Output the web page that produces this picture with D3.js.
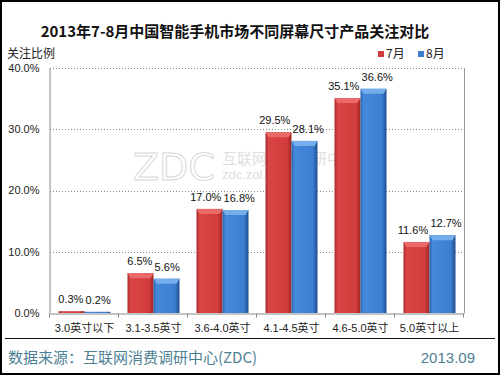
<!DOCTYPE html>
<html>
<head>
<meta charset="utf-8">
<script src="https://cdn.jsdelivr.net/npm/d3@7"></script>
<style>
	body { margin: 0; background: #fff; }
	svg { display: block; font-family: 'Liberation Sans', 'Noto Sans CJK SC', sans-serif; }
</style>
</head>
<body>
<div id="canvas"></div>
<script>
const categories = ['3.0英寸以下', '3.1-3.5英寸', '3.6-4.0英寸', '4.1-4.5英寸', '4.6-5.0英寸', '5.0英寸以上'];
const months = ['7月', '8月'];
const july = [0.3, 6.5, 17.0, 29.5, 35.1, 11.6];
const august = [0.2, 5.6, 16.8, 28.1, 36.6, 12.7];
const yTicks = [0, 10, 20, 30, 40];

function onLoad () {
	const w = 500, h = 375;
	const m = { left: 50, right: 464, top: 68, bottom: 313 };

	const series = months.map((k, i) => ({ key: k, values: i === 0 ? july : august }));
	const rows = categories.map((c, i) => ({ cat: c, values: series.map(s => ({ key: s.key, v: s.values[i] })) }));

	const svg = d3.select('#canvas').append('svg')
		.attr('width', w)
		.attr('height', h)
		.attr('viewBox', [0, 0, w, h]);

	const defs = svg.append('defs');
	const grads = {
		'7月': ['#a82a2a', '#d94545', '#d23c3c', '#a02525'],
		'8月': ['#2a63b0', '#4589dc', '#3c7ed2', '#1f4e90']
	};
	const caps = { '7月': '#ea6a6a', '8月': '#75aeea' };
	months.forEach((k, i) => {
		const g = defs.append('linearGradient').attr('id', `g${i}`).attr('x1', 0).attr('x2', 1).attr('y1', 0).attr('y2', 0);
		[0, 0.12, 0.82, 1].forEach((o, j) => g.append('stop').attr('offset', o).attr('stop-color', grads[k][j]));
	});

	const x0 = d3.scaleBand().domain(categories).range([m.left, m.right]);
	const x1 = d3.scaleBand().domain(months).range([8.5, x0.bandwidth() - 8.5]);
	const y = d3.scaleLinear().domain([0, 40]).range([m.bottom, m.top]);
	const color = d3.scaleOrdinal().domain(months).range(['#d23c3c', '#3c7ed2']);

	// frame
	svg.append('rect').attr('x', 1).attr('y', 1).attr('width', w - 2).attr('height', h - 2)
		.style('fill', 'none').style('stroke', '#000').style('stroke-width', 2);

	// title
	svg.append('text').attr('x', 235).attr('y', 37).attr('text-anchor', 'middle')
		.style('font-family', "'Noto Sans CJK SC', sans-serif")
		.style('font-size', '15px').style('font-weight', 'bold').style('fill', '#111')
		.text('2013年7-8月中国智能手机市场不同屏幕尺寸产品关注对比');

	svg.append('text').attr('x', 7).attr('y', 58)
		.style('font-family', "'Noto Sans CJK SC', sans-serif")
		.style('font-size', '12px').style('fill', '#222').text('关注比例');

	// watermark
	const wm = svg.append('g').style('fill', '#dedede');
	wm.append('text').attr('x', 133).attr('y', 180).style('font-size', '38px').style('font-family', "'DejaVu Sans', sans-serif")
		.style('fill', 'none').style('stroke', '#d8d8d8').text('ZDC');
	wm.append('text').attr('x', 222).attr('y', 164).style('font-size', '15px')
		.style('font-family', "'Noto Sans CJK SC', sans-serif").text('互联网消费调研中心');
	wm.append('text').attr('x', 222).attr('y', 179).style('font-size', '13px').text('zdc.zol.com.cn');

	// grid
	svg.append('g').selectAll('line').data(yTicks.filter(d => d > 0)).join('line')
		.attr('x1', m.left).attr('x2', m.right)
		.attr('y1', d => Math.round(y(d)) + 0.5).attr('y2', d => Math.round(y(d)) + 0.5)
		.style('stroke', '#888').style('stroke-dasharray', '1,2');

	// right border
	svg.append('line').attr('x1', m.right + 0.5).attr('x2', m.right + 0.5).attr('y1', m.top).attr('y2', m.bottom)
		.style('stroke', '#999');

	// y axis
	const yAxis = svg.append('g').attr('transform', `translate(${m.left - 0.5},0)`)
		.call(d3.axisLeft(y).tickValues(yTicks).tickSize(0).tickPadding(10).tickFormat(d => d.toFixed(1) + '%'));
	yAxis.select('.domain').style('stroke', '#888');
	yAxis.selectAll('text').style('font-size', '11px').style('fill', '#222').style('font-family', "'Liberation Sans', sans-serif");
	yAxis.selectAll('.tick text').attr('dy', '0.3em');

	// bars
	const groups = svg.append('g').selectAll('g').data(rows).join('g')
		.attr('transform', d => `translate(${x0(d.cat)},0)`);

	groups.selectAll('rect.bar').data(d => d.values).join('rect')
		.attr('class', 'bar')
		.attr('x', d => x1(d.key))
		.attr('width', x1.bandwidth())
		.attr('y', d => y(d.v))
		.attr('height', d => y(0) - y(d.v))
		.style('fill', d => `url(#g${months.indexOf(d.key)})`);

	groups.selectAll('path.cap').data(d => d.values.filter(v => y(0) - y(v.v) > 6)).join('path')
		.attr('class', 'cap')
		.attr('d', d => {
			const bx = x1(d.key), bw = x1.bandwidth(), by = y(d.v);
			return `M${bx},${by}H${bx + bw}L${bx + bw - 3},${by + 5}H${bx + 3}Z`;
		})
		.style('fill', d => caps[d.key]);

	groups.selectAll('text.val').data(d => d.values).join('text')
		.attr('class', 'val')
		.attr('x', d => x1(d.key) + x1.bandwidth() / 2)
		.attr('y', d => y(d.v) - 8)
		.attr('text-anchor', 'middle')
		.style('font-size', '11px').style('fill', '#111')
		.text(d => d.v.toFixed(1) + '%');

	// push the two labels of a pair apart when they collide
	groups.each(function () {
		const t = d3.select(this).selectAll('text.val').nodes();
		const a = t[0].getBBox(), b = t[1].getBBox();
		const ov = (a.x + a.width) - b.x;
		const vert = a.y < b.y + b.height && b.y < a.y + a.height;
		if (vert && ov > -1) {
			const s = (ov + 2) / 2;
			d3.select(t[0]).attr('x', +t[0].getAttribute('x') - s);
			d3.select(t[1]).attr('x', +t[1].getAttribute('x') + s);
		}
	});

	// x axis
	const xAxis = svg.append('g').attr('transform', `translate(0,${m.bottom + 0.5})`)
		.call(d3.axisBottom(x0).tickSize(0).tickPadding(11).tickSizeOuter(0));
	xAxis.select('.domain').style('stroke', '#888');
	xAxis.selectAll('text').style('font-size', '11px').style('fill', '#222')
		.style('font-family', "'Liberation Sans', 'Noto Sans CJK SC', sans-serif");
	xAxis.selectAll('line.sep').data(d3.range(categories.length + 1)).join('line')
		.attr('class', 'sep')
		.attr('x1', i => Math.round(m.left + i * x0.step()) - 0.5).attr('x2', i => Math.round(m.left + i * x0.step()) - 0.5)
		.attr('y1', 0).attr('y2', 4).style('stroke', '#888');

	// legend
	const lg = svg.append('g').selectAll('g').data(months).join('g')
		.attr('transform', (d, i) => `translate(${378 + i * 40},50)`);
	lg.append('rect').attr('width', 6).attr('height', 6).attr('y', 1).style('fill', d => color(d));
	lg.append('text').attr('x', 8).attr('y', 8)
		.style('font-family', "'Noto Sans CJK SC', sans-serif")
		.style('font-size', '12px').style('fill', '#222').text(d => d);

	// footer
	svg.append('line').attr('x1', 5).attr('x2', 495).attr('y1', 338.5).attr('y2', 338.5)
		.style('stroke', '#111').style('stroke-width', 1);
	svg.append('text').attr('x', 8).attr('y', 363)
		.style('font-family', "'Noto Sans CJK SC', sans-serif")
		.style('font-size', '15px').style('fill', '#4d7f93')
		.text('数据来源：互联网消费调研中心(ZDC)');
	svg.append('text').attr('x', 475).attr('y', 363).attr('text-anchor', 'end')
		.style('font-size', '15px').style('fill', '#4d7f93').text('2013.09');
}

if (document.readyState === 'loading') {
	document.addEventListener('DOMContentLoaded', onLoad);
} else {
	onLoad();
}
</script>
</body>
</html>
